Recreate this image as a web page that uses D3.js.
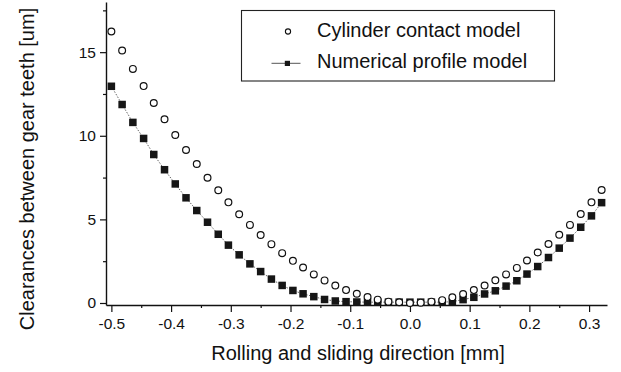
<!DOCTYPE html>
<html>
<head>
<meta charset="utf-8">
<script src="https://cdn.jsdelivr.net/npm/d3@7"></script>
<style>
  body { margin: 0; background: #fff; }
  svg { display: block; background: #fff; }
  text { font-family: "Liberation Sans", Arial, sans-serif; fill: #111; }
</style>
</head>
<body>
<svg id="chart" width="621" height="372"></svg>
<script>
// Position along the rolling and sliding direction [mm]
const positions = [
  -0.500, -0.482, -0.464, -0.446, -0.429, -0.411, -0.393, -0.375, -0.357, -0.339,
  -0.321, -0.304, -0.286, -0.268, -0.250, -0.232, -0.214, -0.196, -0.179, -0.161,
  -0.143, -0.125, -0.107, -0.089, -0.071, -0.054, -0.036, -0.018, 0.000, 0.018,
  0.036, 0.054, 0.071, 0.089, 0.107, 0.125, 0.143, 0.161, 0.179, 0.196,
  0.214, 0.232, 0.250, 0.268, 0.286, 0.304, 0.321
];

// Clearance between gear teeth [um], cylinder contact model
const cylinderModel = [
  16.24, 15.10, 14.00, 12.97, 11.96, 10.99, 10.05, 9.15, 8.31, 7.49,
  6.74, 6.02, 5.31, 4.67, 4.07, 3.52, 2.98, 2.52, 2.12, 1.71,
  1.35, 1.05, 0.77, 0.55, 0.36, 0.20, 0.08, 0.04, 0.00, 0.02,
  0.08, 0.17, 0.34, 0.54, 0.77, 1.05, 1.36, 1.71, 2.10, 2.54,
  3.02, 3.53, 4.08, 4.67, 5.32, 6.02, 6.76
];

// Clearance between gear teeth [um], numerical profile model
const numericalModel = [
  12.96, 11.87, 10.80, 9.84, 8.88, 7.97, 7.12, 6.29, 5.53, 4.83,
  4.11, 3.46, 2.88, 2.34, 1.88, 1.43, 1.05, 0.75, 0.55, 0.38,
  0.21, 0.12, 0.08, 0.06, 0.05, 0.05, 0.05, 0.05, 0.05, 0.05,
  0.05, 0.05, 0.08, 0.20, 0.34, 0.54, 0.73, 1.01, 1.33, 1.73,
  2.18, 2.72, 3.28, 3.88, 4.53, 5.21, 6.00
];

const xTicks = [-0.5, -0.4, -0.3, -0.2, -0.1, 0.0, 0.1, 0.2, 0.3];
const xMinorTicks = [-0.45, -0.35, -0.25, -0.15, -0.05, 0.05, 0.15, 0.25];
const yTicks = [0, 5, 10, 15];
const yMinorTicks = [2.5, 7.5, 12.5, 17.5];

const seriesNames = ["Cylinder contact model", "Numerical profile model"];
const xTitle = "Rolling and sliding direction [mm]";
const yTitle = "Clearances between gear teeth [um]";

const svg = d3.select("#chart");

const x = d3.scaleLinear().domain([-0.509, 0.33]).range([106, 607]);
const y = d3.scaleLinear().domain([-0.12, 18]).range([305, 2]);

const fmt = d => d.toFixed(1);

// Minor ticks
svg.append("g")
  .attr("transform", `translate(0,${y.range()[0]})`)
  .call(d3.axisBottom(x).tickValues(xMinorTicks).tickFormat("").tickSize(3).tickSizeOuter(0))
  .call(g => g.select(".domain").remove())
  .call(g => g.selectAll("line").attr("stroke", "#111").attr("stroke-width", 1.2));

svg.append("g")
  .attr("transform", `translate(${x.range()[0]},0)`)
  .call(d3.axisLeft(y).tickValues(yMinorTicks).tickFormat("").tickSize(3).tickSizeOuter(0))
  .call(g => g.select(".domain").remove())
  .call(g => g.selectAll("line").attr("stroke", "#111").attr("stroke-width", 1.2));

// Major axes
const xAxis = svg.append("g")
  .attr("transform", `translate(0,${y.range()[0]})`)
  .call(d3.axisBottom(x).tickValues(xTicks).tickFormat(fmt).tickSize(7).tickSizeOuter(0));
xAxis.selectAll("text").attr("y", 13).style("font-size", "15.5px");

const yAxis = svg.append("g")
  .attr("transform", `translate(${x.range()[0]},0)`)
  .call(d3.axisLeft(y).tickValues(yTicks).tickFormat(d3.format("d")).tickSize(6).tickSizeOuter(0));
yAxis.selectAll("text").attr("x", -10).style("font-size", "15.5px");

[xAxis, yAxis].forEach(g => {
  g.attr("font-family", null);
  g.select(".domain").attr("stroke", "#111").attr("stroke-width", 1.4);
  g.selectAll(".tick line").attr("stroke", "#111").attr("stroke-width", 1.2);
  g.selectAll("text").attr("fill", "#111");
});

// Axis titles
svg.append("text")
  .attr("x", 358).attr("y", 360)
  .attr("text-anchor", "middle")
  .style("font-size", "20px")
  .text(xTitle);

svg.append("text")
  .attr("transform", "translate(34,169) rotate(-90)")
  .attr("text-anchor", "middle")
  .style("font-size", "20px")
  .text(yTitle);

// Numerical profile model: dotted connecting line and filled squares
const numPoints = positions.map((p, i) => [p, numericalModel[i]]);
const cylPoints = positions.map((p, i) => [p, cylinderModel[i]]);

svg.append("path")
  .datum(numPoints)
  .attr("fill", "none")
  .attr("stroke", "#666")
  .attr("stroke-width", 1)
  .attr("stroke-dasharray", "1.5,1.5")
  .attr("d", d3.line().x(d => x(d[0])).y(d => y(d[1])));

const sq = 7.5;
svg.append("g").selectAll("rect")
  .data(numPoints)
  .join("rect")
  .attr("x", d => x(d[0]) - sq / 2)
  .attr("y", d => y(d[1]) - sq / 2)
  .attr("width", sq).attr("height", sq)
  .attr("fill", "#161616");

// Cylinder contact model: open circles
svg.append("g").selectAll("circle")
  .data(cylPoints)
  .join("circle")
  .attr("cx", d => x(d[0]))
  .attr("cy", d => y(d[1]))
  .attr("r", 3.4)
  .attr("fill", "#fff")
  .attr("stroke", "#111")
  .attr("stroke-width", 1.2);

// Legend
const legend = svg.append("g");
legend.append("rect")
  .attr("x", 241.5).attr("y", 10.5)
  .attr("width", 313).attr("height", 70.5)
  .attr("fill", "#fff")
  .attr("stroke", "#222")
  .attr("stroke-width", 1.1);

legend.append("circle")
  .attr("cx", 288).attr("cy", 31.5).attr("r", 2.6)
  .attr("fill", "#fff").attr("stroke", "#111").attr("stroke-width", 1.1);
legend.append("text")
  .attr("x", 317).attr("y", 36.7)
  .style("font-size", "20px")
  .text(seriesNames[0]);

legend.append("line")
  .attr("x1", 271.5).attr("x2", 300.5)
  .attr("y1", 63.3).attr("y2", 63.3)
  .attr("stroke", "#555").attr("stroke-width", 1);
legend.append("rect")
  .attr("x", 284.8).attr("y", 60.8).attr("width", 5.2).attr("height", 5.2)
  .attr("fill", "#161616");
legend.append("text")
  .attr("x", 317).attr("y", 68.3)
  .style("font-size", "20px")
  .text(seriesNames[1]);
</script>
</body>
</html>
